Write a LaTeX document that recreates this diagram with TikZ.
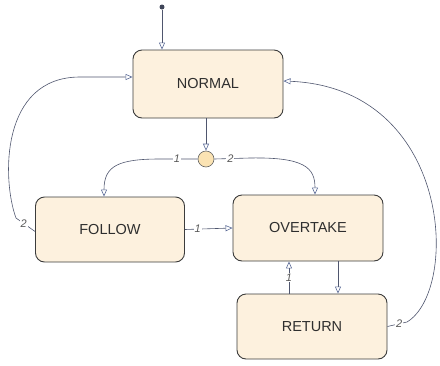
\documentclass[tikz,border=0pt]{standalone}
\usepackage{fontspec}
\setmainfont{Liberation Sans}
\usetikzlibrary{arrows.meta,calc}
\definecolor{boxfill}{HTML}{FDF1DE}
\definecolor{boxline}{HTML}{3C3C3C}
\definecolor{junfill}{HTML}{FBE3B3}
\definecolor{conncol}{HTML}{4F566E}
\definecolor{tipcol}{HTML}{5A6A96}
\definecolor{txtcol}{HTML}{2E2E2E}
\tikzset{
  statebox/.style={draw=boxline, line width=0.9pt, fill=boxfill, rounded corners=9pt,
    minimum width=150pt, minimum height=66pt, inner sep=0pt,
    font=\fontsize{14.5}{17}\selectfont, text=txtcol},
  junction/.style={circle, draw=gray!80!black, line width=0.6pt, fill=junfill,
    minimum size=16pt, inner sep=0pt},
  initdot/.style={circle, fill=conncol!80!black, minimum size=5pt, inner sep=0pt},
  conn/.style={draw=conncol, line width=0.6pt,
    -{Triangle[open, length=7pt, width=6pt, color=tipcol]}},
  lbl/.style={fill=white, inner sep=1pt, text=gray!70!black,
    font=\fontsize{11}{12}\selectfont\itshape}
}
\begin{document}
\begin{tikzpicture}[x=1pt, y=-1pt]
\useasboundingbox (0,0) rectangle (440,365);
\node[statebox, minimum height=68pt] (normal) at (208,84) {NORMAL};
\node[statebox, minimum width=149pt, minimum height=65pt] (follow) at (110,229.5) {FOLLOW};
\node[statebox] (overtake) at (308,228) {OVERTAKE};
\node[statebox, minimum height=65pt] (return) at (312,326.5) {RETURN};
\node[junction] (junc) at (206,159) {};
\node[initdot] (init) at (162,7) {};

% initial transition
\draw[conn] (init) -- (init |- normal.north);
% normal -> junction
\draw[conn] (normal.south -| junc) -- (junc.north);
% junction -> follow
\draw[conn] (junc.west) -- (160,159) node[lbl, pos=0.55] {1}
  .. controls (118,159) and (104,166) .. ($(follow.north)+(-6,0)$);
% junction -> overtake
\draw[conn] (junc.east) -- (250,158) node[lbl, pos=0.45] {2}
  .. controls (305,157) and (315,168) .. ($(overtake.north)+(7,0)$);
% follow -> overtake
\draw[conn] (follow.east) -- (overtake.west) node[lbl, pos=0.27] {1};
% follow -> normal
\draw[conn] ($(follow.west)+(0,2)$) -- (16,218) node[lbl, pos=0.6] {2}
  .. controls (2,180) and (0,77) .. (80,77) -- ($(normal.west)+(0,-7)$);
% overtake -> return
\draw[conn] ($(overtake.south)+(30,0)$) -- ($(return.north)+(26,0)$);
% return -> overtake
\draw[conn] ($(return.north)+(-23,0)$) -- ($(overtake.south)+(-19,0)$) node[lbl, pos=0.5] {1};
% return -> normal
\draw[conn] (return.east) -- (407,322) node[lbl, pos=0.6] {2}
  .. controls (460,290) and (452,88) .. ($(normal.east)+(0,-3)$);
\end{tikzpicture}
\end{document}
